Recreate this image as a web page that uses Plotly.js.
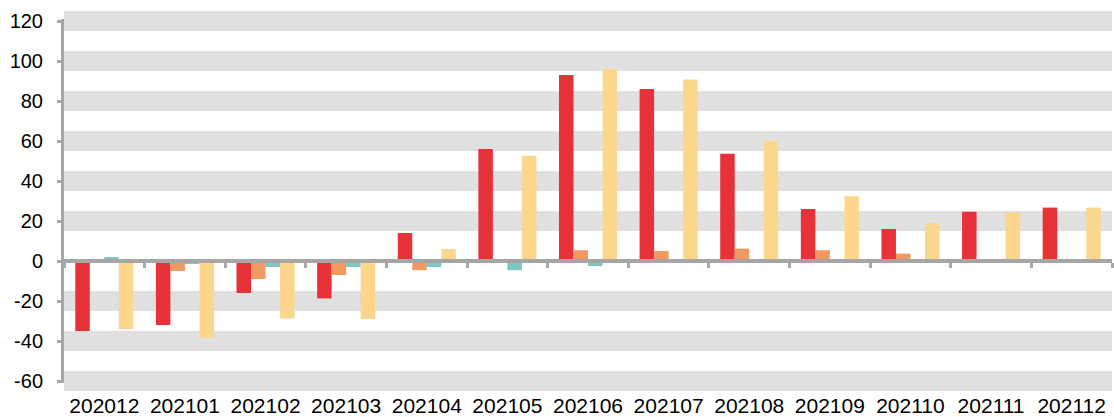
<!DOCTYPE html>
<html>
<head>
<meta charset="utf-8">
<script src="https://cdn.plot.ly/plotly-3.0.1.min.js"></script>
<style>
  html, body { margin: 0; padding: 0; background: #ffffff; }
  #chart { width: 1114px; height: 417px; }
</style>
</head>
<body>
<div id="chart"></div>
<script>
// ---- data ----
const months = ['202012','202101','202102','202103','202104','202105','202106',
                '202107','202108','202109','202110','202111','202112'];
const seriesA = [-35, -32, -16, -18.7, 14, 56, 93, 86, 53.6, 26, 16, 24.6, 26.7];   // red
const seriesB = [0, -5, -9, -7, -4.6, 0.3, 5.4, 5, 6.2, 5.4, 3.7, 0, 0];            // orange
const seriesC = [2, -1.5, -3, -3, -3, -4.6, -2.5, 0, 0, 0, 0, 0, 0];                // teal
const seriesD = [-34, -38.5, -28.7, -29, 6, 52.6, 96, 90.7, 60, 32.4, 19, 24.3, 26.7]; // yellow
const yTicks = [-60, -40, -20, 0, 20, 40, 60, 80, 100, 120];

const colors = ['#e8323a', '#f09a62', '#7fc5c4', '#fdd68e'];
const names = ['A', 'B', 'C', 'D'];
const series = [seriesA, seriesB, seriesC, seriesD];

const traces = series.map((vals, i) => ({
  type: 'bar',
  x: months,
  y: vals,
  name: names[i],
  marker: { color: colors[i] },
  hoverinfo: 'x+y'
}));

// invisible helper trace so the zero-line axis (x2) knows the categories
traces.push({
  type: 'scatter',
  mode: 'markers',
  x: months,
  y: seriesA,
  xaxis: 'x2',
  marker: { opacity: 0 },
  hoverinfo: 'skip',
  showlegend: false
});

const axisGray = '#a6a6a6';
const yRange = [-61, 121];

const layout = {
  width: 1114,
  height: 417,
  margin: { l: 64, r: 2, t: 19, b: 34, pad: 0 },
  paper_bgcolor: '#ffffff',
  plot_bgcolor: 'rgba(0,0,0,0)',
  showlegend: false,
  barmode: 'group',
  bargap: 0.28,
  bargroupgap: 0,
  font: { family: 'Liberation Sans, Arial, sans-serif', size: 20, color: '#000000' },
  xaxis: {
    type: 'category',
    categoryorder: 'array',
    categoryarray: months,
    range: [-0.5, 12.5],
    showline: false,
    showgrid: false,
    zeroline: false,
    ticks: '',
    tickfont: { size: 21, color: '#000000' },
    ticklabelstandoff: 8
  },
  xaxis2: {
    type: 'category',
    categoryorder: 'array',
    categoryarray: months,
    range: [-0.5, 12.5],
    overlaying: 'x',
    anchor: 'free',
    position: (0 - yRange[0]) / (yRange[1] - yRange[0]),
    side: 'bottom',
    showline: true,
    linecolor: axisGray,
    linewidth: 4,
    layer: 'above traces',
    showgrid: false,
    zeroline: false,
    ticks: 'outside',
    tickson: 'boundaries',
    ticklen: 5,
    tickwidth: 3,
    tickcolor: axisGray,
    showticklabels: false
  },
  yaxis: {
    range: yRange,
    tickvals: yTicks,
    ticktext: yTicks.map(String),
    showline: true,
    linecolor: axisGray,
    linewidth: 3,
    ticks: 'outside',
    ticklen: 4,
    tickwidth: 3,
    tickcolor: axisGray,
    showgrid: true,
    gridcolor: '#e0e0e0',
    gridwidth: 20,
    zeroline: true,
    zerolinecolor: axisGray,
    zerolinewidth: 4,
    tickfont: { size: 20, color: '#000000' },
    ticklabelstandoff: 10
  }
};

Plotly.newPlot('chart', traces, layout, { displayModeBar: false, staticPlot: true });
</script>
</body>
</html>
